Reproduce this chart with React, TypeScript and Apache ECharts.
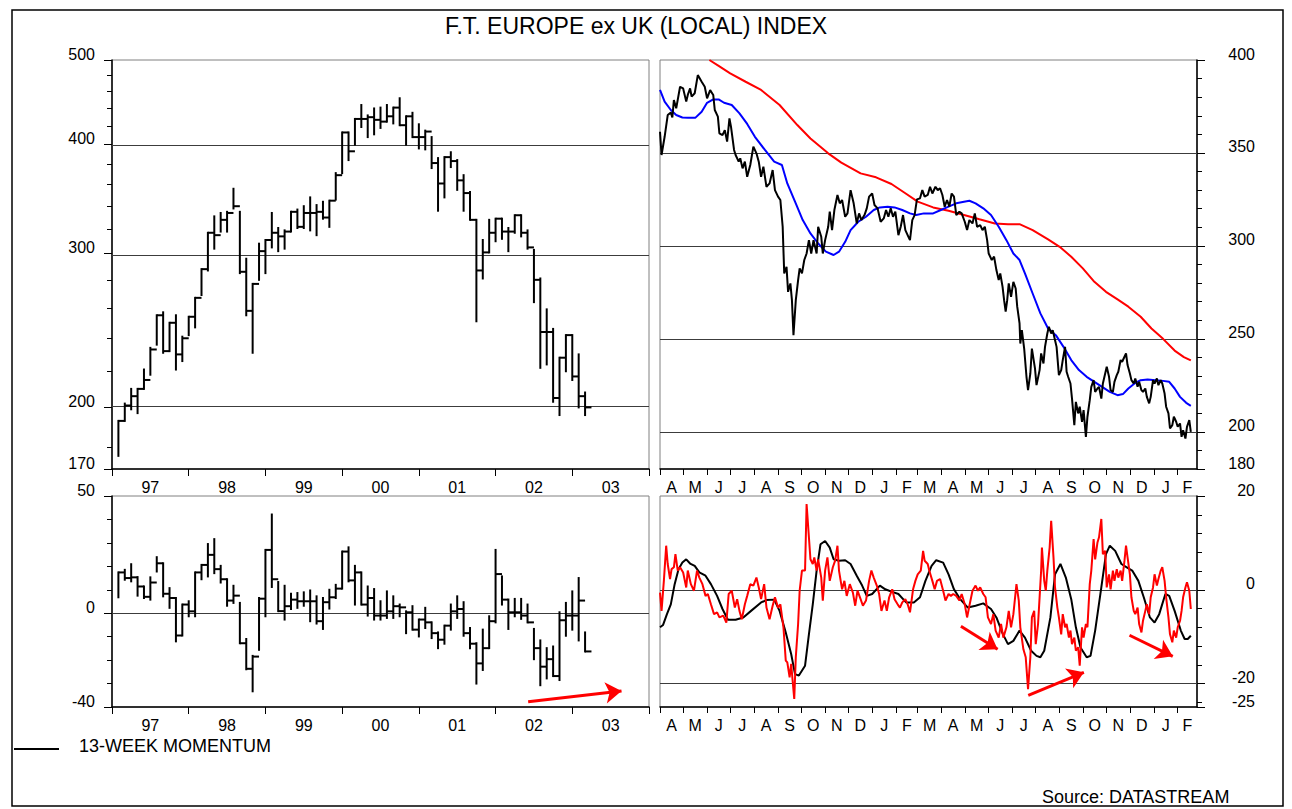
import React, { useEffect, useRef } from "react";
import * as echarts from "echarts";

const FONT = "'Liberation Sans', Arial, Helvetica, sans-serif";

// ---------- Left panels: monthly bars, Jan 1997 .. Feb 2003 (bar i sits at month-end i+1) ----------
const yearLabels = ["97", "98", "99", "00", "01", "02", "03"];
const monthlyHigh = [193,202,210,210,221,234,255,257,250,255,241,254,267,288,317,331,334,335,356,335,296,277,308,311,334,321,319,335,337,340,348,341,344,345,371,413,413,428,444,432,440,441,444,441,452,431,435,422,415,408,386,387,392,384,369,353,328,311,328,329,329,321,332,332,319,303,281,259,246,228,242,242,230,208];
const monthlyLow = [176,193,199,197,210,218,236,231,232,221,226,242,247,269,287,304,318,318,338,285,255,231,280,285,305,302,304,318,321,321,319,315,329,322,346,371,384,400,419,408,411,418,425,423,421,400,408,396,395,376,336,348,377,355,336,328,251,281,301,310,312,302,317,314,304,264,222,224,203,196,220,215,200,196];
const monthlyClose = [193,201,206,210,215,233,255,232,250,230,240,254,267,288,317,315,328,334,340,286,258,277,302,311,317,314,318,335,322,334,334,335,330,345,369,413,393,428,428,430,427,425,431,441,421,431,408,408,414,381,361,387,383,364,352,328,287,301,317,329,318,318,332,317,305,280,244,244,205,228,242,217,206,200];

const momHigh = [17.4,18.5,20.9,15.4,11.4,15.3,23.9,21.3,10.7,6.5,3.7,5.1,17.4,20.6,29.5,31.6,20.2,14.5,11.7,4.4,-11.0,-18.2,6.5,27,42.1,13.3,11.7,8.3,8.6,8.9,9.7,7.2,6.5,10,12.1,26.3,28.1,20.2,17.4,11.4,10.3,5.1,9.3,7.2,3.7,0.8,3,-2.7,2.3,-3.9,-8.2,-5.3,3.7,7.2,4.7,-6.3,-12.8,-7,-1.3,27,15.7,5.8,6.1,6.1,3.7,-6.7,-11.6,-14.9,-14.2,0.4,4.4,9.3,15,-8.2];
const momLow = [6.8,14.3,13.6,7.5,6.5,5.8,17.8,7.2,2.3,-12.0,-9.5,-1.3,-1.3,14.5,15.7,17.1,13.1,3.2,4.4,-12.8,-23.9,-33.3,-15.6,-1.3,11.2,0.9,-2.7,1.8,2.3,3.2,-3.4,-4.4,-6.7,2,6.5,10.5,13.6,3.7,3.7,-1,-2.7,-2.7,-2,-2,-1.3,-8.5,-7,-9.9,-6.3,-10.6,-14.9,-13,-7,-2,-9.6,-14.9,-30,-24.2,-14.9,-3.9,3.7,-6.7,-1.3,-2.4,-3.9,-19.6,-30.7,-27.8,-26.8,-28.5,-9.6,-7,-11.6,-16.3];
const momClose = [17.4,15.0,15.3,11.4,7.0,13.1,21.3,8.3,6.5,-9.5,3.7,0.8,17.4,20.6,24.9,18.8,14.5,5.4,7.5,-12.8,-23.7,-18.5,6.2,27,14.5,0.9,3,5.8,5.1,5.1,5.1,-3.4,4.7,6.8,10.5,26.3,14.0,17.4,3.7,6.5,-1,-1,0.8,3,2.5,0.4,-7,-2.7,-3.9,-8.5,-11.3,-5.3,0.8,1.8,-8.5,-13,-21.4,-14.9,-3.4,16.7,5.8,0.4,0.4,-1,-3.9,-14.9,-22.8,-19.6,-26.8,-3,-1,-1,5.4,-16.3];

const leftPriceTicks = [170, 200, 300, 400, 500];
const leftPriceMinor = [170,180,200,220,240,260,280,300,320,340,360,380,400,420,440,460,480,500];
const leftPriceGrid = [400, 300, 200];
const leftMomTicks = [-40, 0, 50];
const leftMomMinor = [-40,-30,-20,-10,0,10,20,30,40,50];
const leftMomGrid = [0];
// arrow: [monthStart, valueStart, monthEnd, valueEnd]
const leftMomArrows = [[65.1, -37.8, 79.7, -33.2]];

// ---------- Right panels: daily, day 0 = 1 Apr 2001 ----------
const monthLetters = ["A","M","J","J","A","S","O","N","D","J","F","M","A","M","J","J","A","S","O","N","D","J","F"];
const monthStartDays = [0,30,61,91,122,153,183,214,244,275,306,334,365,395,426,456,487,518,548,579,609,640,671];
const lastAxisDay = 696;

const indexDaily = [[0,361.4],[2,348.9],[6,358.7],[10,370.4],[14,371.7],[16,369.1],[18,378.5],[21,374.0],[26,385.6],[30,384.7],[34,377.6],[36,381.2],[39,384.7],[41,380.3],[45,382.1],[49,391.9],[54,388.3],[58,385.6],[61,379.4],[65,383.8],[69,381.2],[71,373.1],[75,369.5],[77,360.5],[81,359.6],[84,362.3],[87,356.1],[90,368.6],[92,364.1],[96,351.6],[98,348.9],[102,345.3],[104,347.1],[107,341.7],[110,345.3],[113,337.2],[117,343.5],[121,353.4],[125,349.8],[128,345.3],[131,337.2],[134,342.6],[138,331.8],[142,333.6],[146,340.8],[149,330.0],[153,326.5],[156,324.7],[159,310.3],[161,285.2],[164,288.8],[166,275.3],[169,279.8],[171,270.8],[173,252.0],[176,270.8],[179,281.6],[181,287.9],[184,285.2],[187,292.4],[190,295.9],[193,303.1],[196,295.9],[199,303.1],[203,295.9],[205,310.3],[209,304.9],[211,295.9],[214,303.1],[218,310.3],[220,318.4],[223,308.5],[226,319.3],[230,327.4],[233,322.9],[236,324.7],[240,315.7],[243,317.5],[245,323.8],[247,330.0],[251,322.9],[255,312.1],[258,317.5],[261,313.9],[265,316.6],[268,320.2],[271,326.5],[275,328.2],[278,322.0],[282,320.2],[286,313.0],[290,314.8],[293,319.3],[296,315.7],[299,320.2],[302,315.7],[305,318.4],[309,305.8],[312,310.3],[315,316.6],[318,308.5],[322,304.9],[324,303.1],[327,313.9],[330,316.6],[333,325.0],[337,325.6],[340,330.0],[343,326.5],[347,327.4],[350,331.8],[353,328.2],[357,331.8],[360,330.0],[363,331.0],[366,327.4],[369,321.1],[372,324.7],[375,321.1],[378,328.2],[381,326.5],[384,316.6],[388,318.4],[391,317.5],[395,313.0],[398,308.5],[401,313.9],[405,312.1],[408,317.5],[411,310.3],[415,311.2],[418,308.5],[421,310.3],[424,303.1],[426,295.9],[430,292.4],[433,294.2],[436,287.0],[439,281.6],[441,285.2],[444,278.0],[446,270.8],[448,264.6],[450,270.8],[452,279.8],[455,272.6],[458,280.7],[461,277.1],[463,267.3],[466,258.3],[467,247.5],[469,254.7],[472,244.8],[475,229.6],[477,222.4],[480,231.4],[482,244.8],[486,234.1],[488,225.1],[492,233.2],[494,242.2],[497,236.8],[499,245.7],[502,252.9],[504,256.5],[507,252.9],[509,254.7],[512,249.3],[514,245.7],[517,230.5],[520,233.2],[522,238.6],[525,245.7],[527,232.3],[529,229.6],[532,226.0],[534,217.9],[537,203.6],[539,216.1],[542,209.9],[544,213.5],[547,205.4],[549,211.7],[552,197.3],[554,208.1],[557,217.0],[559,224.2],[562,227.8],[564,221.5],[567,223.3],[569,224.2],[572,217.9],[574,226.0],[577,231.4],[579,235.0],[582,229.6],[584,222.4],[587,221.5],[589,226.9],[592,230.5],[594,232.3],[597,238.6],[599,237.7],[602,240.4],[604,242.2],[606,235.9],[609,231.4],[611,227.8],[614,226.0],[616,228.7],[619,224.2],[621,226.9],[624,222.4],[626,221.5],[629,223.3],[631,218.8],[634,215.3],[636,218.8],[639,227.8],[641,226.0],[644,228.7],[646,225.1],[649,227.8],[651,226.0],[654,220.6],[656,213.5],[659,209.9],[661,201.8],[664,203.6],[666,208.1],[669,205.4],[671,202.7],[674,204.5],[676,197.3],[678,200.9],[681,196.4],[683,202.7],[686,206.3],[688,200.0]];

const shortAverage = [[0,383.9],[6,377.6],[14,373.1],[21,370.4],[29,369.1],[36,369.0],[46,369.0],[54,372.2],[61,377.0],[69,378.8],[76,378.8],[83,377.0],[93,375.8],[103,371.3],[113,365.6],[123,358.7],[136,351.6],[148,345.3],[158,343.5],[165,333.6],[175,323.8],[185,313.9],[195,306.7],[205,301.3],[215,296.9],[225,295.1],[232,296.9],[240,302.2],[247,308.5],[257,313.0],[267,315.7],[277,319.3],[285,320.7],[295,321.1],[304,320.7],[314,319.3],[324,317.5],[332,316.6],[342,317.5],[354,317.5],[364,319.3],[374,321.1],[384,322.9],[394,323.8],[401,324.3],[409,322.9],[419,320.2],[429,316.6],[439,310.3],[449,303.1],[458,295.9],[466,292.4],[473,285.2],[483,274.4],[493,263.7],[503,255.6],[513,252.0],[523,245.7],[533,238.6],[543,233.2],[553,229.6],[563,226.9],[573,224.2],[583,221.5],[593,219.7],[600,220.3],[607,223.3],[615,226.0],[623,227.8],[632,228.2],[642,227.8],[652,227.4],[660,226.9],[667,223.3],[674,218.8],[682,215.6],[688,214.0]];

const longAverage = [[64,400.0],[76,396.8],[91,392.8],[111,388.3],[131,383.9],[155,375.8],[178,365.0],[195,357.8],[218,349.8],[235,344.8],[260,339.0],[280,336.9],[300,333.3],[317,328.6],[334,323.8],[354,320.7],[374,318.9],[394,316.6],[414,314.3],[434,312.1],[451,311.7],[466,311.7],[483,308.5],[503,303.5],[518,299.5],[533,294.2],[548,287.9],[563,280.7],[578,275.3],[593,271.2],[607,267.3],[623,261.9],[637,255.6],[652,250.0],[667,243.7],[679,240.2],[688,238.4]];

const momentum13 = [[0,-8.0],[4,-7.5],[9,-5.2],[14,-3.1],[19,1.2],[24,4.4],[29,5.8],[34,6.5],[39,5.6],[45,5.1],[51,3.7],[59,3.0],[66,1.2],[74,-1.3],[81,-4.1],[88,-6.4],[98,-6.4],[108,-5.9],[118,-4.5],[131,-2.7],[138,-2.2],[148,-2.1],[155,-4.5],[163,-9.1],[170,-13.7],[175,-18.0],[180,-18.3],[188,-16.2],[193,-9.5],[198,-3.1],[203,4.1],[208,9.7],[214,10.4],[220,9.0],[225,6.5],[232,6.2],[240,6.3],[247,5.5],[255,3.0],[262,0.9],[268,-1.3],[275,-0.9],[285,0.9],[292,0.1],[300,-0.4],[309,-0.9],[319,-2.7],[329,-2.7],[337,-1.6],[344,1.9],[352,5.1],[358,6.3],[367,5.8],[374,3.3],[381,0.1],[389,-2.0],[399,-3.8],[409,-3.4],[419,-2.9],[429,-4.1],[436,-5.9],[444,-9.3],[451,-11.6],[458,-10.9],[466,-8.7],[473,-10.2],[481,-13.0],[488,-14.1],[493,-14.4],[498,-13.0],[506,-5.9],[512,3.3],[519,5.5],[526,2.6],[533,-2.0],[539,-8.0],[545,-12.3],[553,-14.4],[558,-14.1],[564,-8.7],[572,0.5],[578,7.6],[583,9.4],[590,8.3],[598,5.5],[605,4.8],[612,4.1],[620,1.9],[627,-1.6],[635,-5.9],[641,-7.0],[647,-5.2],[655,-0.9],[660,-1.3],[667,-4.5],[675,-8.7],[680,-10.5],[684,-10.5],[688,-9.8]];

const momentumShort = [[0,-0.6],[2,-4.5],[5,1.9],[8,9.4],[10,5.5],[13,2.3],[15,4.4],[18,4.8],[20,7.6],[23,4.1],[26,4.8],[30,3.7],[34,0.5],[36,4.1],[40,1.2],[44,-0.2],[48,4.1],[51,2.6],[55,1.2],[59,-1.3],[62,-0.9],[66,-3.1],[70,-5.2],[74,-4.8],[77,-5.9],[82,-5.5],[86,-7.0],[89,-0.9],[93,-0.2],[97,-3.8],[100,-2.0],[103,-4.5],[106,-6.3],[110,-3.1],[113,-1.3],[117,1.2],[121,0.9],[125,2.6],[128,0.5],[131,-2.0],[135,1.2],[138,-3.8],[142,-6.3],[146,-3.4],[149,-1.6],[153,-3.8],[156,-3.1],[160,-8.0],[163,-15.1],[165,-15.5],[168,-18.7],[170,-15.8],[174,-23.3],[176,-14.4],[179,-7.3],[181,-0.2],[184,4.1],[188,4.1],[190,18.3],[193,11.2],[195,6.5],[198,5.5],[200,6.9],[203,4.1],[205,6.5],[209,2.6],[211,-2.3],[214,4.1],[217,6.9],[220,1.9],[224,4.8],[227,6.2],[230,9.4],[232,4.1],[236,0.1],[239,1.9],[242,-1.3],[246,1.2],[250,-0.6],[253,-3.4],[256,-0.2],[260,-2.0],[263,-3.4],[267,-2.3],[271,1.9],[274,4.1],[277,2.6],[281,0.9],[284,-0.9],[287,-4.5],[291,-2.3],[294,-4.5],[297,-1.6],[301,0.1],[304,-2.0],[308,-3.1],[311,-3.8],[314,-2.7],[318,-2.0],[321,-3.1],[324,-4.8],[328,0.1],[331,1.9],[334,3.3],[338,4.1],[341,8.3],[343,6.2],[347,5.5],[349,4.1],[353,1.9],[356,0.1],[359,1.9],[363,2.3],[367,-0.2],[370,-2.3],[374,-0.9],[377,-1.3],[380,-0.9],[384,-1.3],[388,-2.3],[391,-0.9],[395,-3.1],[398,-5.9],[401,-3.4],[405,-0.2],[409,0.9],[412,-0.2],[415,0.5],[419,-0.9],[422,-1.6],[425,-5.9],[429,-7.3],[432,-5.2],[435,-8.7],[439,-10.2],[442,-7.3],[445,-10.2],[449,-8.0],[452,-4.5],[455,-8.0],[458,-5.2],[462,1.2],[465,-2.3],[467,-8.0],[471,-12.7],[474,-14.4],[477,-21.2],[480,-14.4],[482,-5.9],[485,-4.5],[487,-11.6],[490,-7.3],[494,4.1],[495,9.0],[498,1.9],[500,-0.2],[502,4.1],[505,9.0],[507,14.7],[510,6.9],[512,0.5],[515,-3.8],[517,-5.9],[520,-9.5],[522,-5.2],[525,-8.0],[527,-7.3],[530,-10.2],[532,-8.7],[534,-11.6],[537,-10.2],[539,-13.0],[542,-12.3],[544,-16.2],[547,-8.0],[549,-10.2],[552,-7.3],[554,-8.0],[557,1.2],[559,4.1],[562,10.8],[564,6.5],[567,10.1],[569,11.2],[572,15.1],[574,7.6],[577,8.3],[579,0.5],[582,3.3],[584,0.1],[587,4.1],[589,1.9],[592,4.4],[594,2.6],[597,4.1],[599,1.9],[602,6.2],[604,9.4],[606,6.9],[609,3.3],[611,-1.6],[614,-4.5],[616,-5.2],[619,-3.8],[621,-7.3],[624,-9.1],[626,-6.6],[629,-4.5],[631,-3.1],[634,-5.2],[636,-1.6],[639,0.5],[641,3.3],[644,0.9],[646,2.3],[649,4.1],[651,4.8],[654,1.9],[656,-1.6],[659,-5.9],[661,-9.5],[664,-11.2],[666,-8.7],[669,-10.2],[671,-8.0],[674,-6.6],[676,-4.5],[678,-1.6],[681,0.5],[683,1.6],[686,-0.2],[688,-4.1]];

const rightPriceTicks = [180, 200, 250, 300, 350, 400];
const rightPriceMinor = [180,190,200,210,220,230,240,250,260,270,280,290,300,310,320,330,340,350,360,370,380,390,400];
const rightPriceGrid = [350, 300, 250, 200];
const rightMomTicks = [-25, -20, 0, 20];
const rightMomMinor = [-24,-20,-16,-12,-8,-4,0,4,8,12,16,20];
const rightMomGrid = [0, -20];
// arrows: [dayStart, valueStart, dayEnd, valueEnd]
const rightMomArrows = [[390, -7.8, 437.6, -12.7], [477.3, -22.5, 549.4, -17.6], [608.5, -9.7, 664.6, -14.2]];
const rightMomLongArrow = [[154.5, -26.3, 697.5, -24.9]];

const L = (v: number) => Math.log(v);

function hlcRender(params: any, api: any) {
  const x = api.value(0);
  const hi = api.coord([x, api.value(1)]);
  const lo = api.coord([x, api.value(2)]);
  const c0 = api.coord([x, api.value(3)]);
  const c1 = api.coord([x + 1, api.value(3)]);
  const style = { stroke: "#000", lineWidth: 2, fill: null };
  return {
    type: "group",
    children: [
      { type: "line", shape: { x1: hi[0], y1: hi[1] - 1, x2: lo[0], y2: lo[1] + 1 }, style },
      { type: "line", shape: { x1: c0[0], y1: c0[1], x2: c1[0], y2: c1[1] }, style },
    ],
  };
}

const tickLabelStyle = { color: "#000", fontSize: 16, fontFamily: FONT };

function yearAxis(gridIndex: number) {
  const ticks = [0, 12, 24, 36, 48, 60, 72, 84];
  const mids = yearLabels.map((_, i) => i * 12 + 6);
  return {
    type: "value", gridIndex, min: 0, max: 84,
    axisLine: { show: true, onZero: false, lineStyle: { color: "#000", width: 1.5 } },
    axisTick: { show: true, customValues: ticks, length: 7, lineStyle: { color: "#000", width: 1 } },
    axisLabel: { ...tickLabelStyle, customValues: mids, margin: 10, formatter: (v: number) => yearLabels[Math.round((v - 6) / 12)] },
    splitLine: { show: false },
  };
}

function dayAxis(gridIndex: number) {
  const mids = monthStartDays.map((d, i) => (d + (i + 1 < monthStartDays.length ? monthStartDays[i + 1] : lastAxisDay)) / 2);
  return {
    type: "value", gridIndex, min: 0, max: lastAxisDay,
    axisLine: { show: true, onZero: false, lineStyle: { color: "#000", width: 1.5 } },
    axisTick: { show: true, customValues: monthStartDays, length: 6, lineStyle: { color: "#000", width: 1 } },
    axisLabel: {
      ...tickLabelStyle, customValues: mids, margin: 10,
      formatter: (v: number) => {
        let idx = 0;
        mids.forEach((m, i) => { if (Math.abs(m - v) < Math.abs(mids[idx] - v)) idx = i; });
        return monthLetters[idx];
      },
    },
    splitLine: { show: false },
  };
}

function valueAxis(gridIndex: number, position: string, min: number, max: number, labels: number[], fmt: (v: number) => string) {
  const right = position === "right";
  return {
    type: "value", gridIndex, position, min, max,
    axisLine: { show: true, onZero: false, lineStyle: { color: "#000", width: 1.5 } },
    axisTick: { show: true, customValues: labels, length: 8, lineStyle: { color: "#000", width: 1 } },
    axisLabel: {
      ...tickLabelStyle, customValues: labels, formatter: fmt,
      margin: right ? 58 : 17, align: "right",
      verticalAlign: "bottom", lineHeight: 12,
    },
    splitLine: { show: false },
  };
}

function minorAxis(gridIndex: number, position: string, min: number, max: number, ticks: number[]) {
  return {
    type: "value", gridIndex, position, min, max,
    axisLine: { show: false, onZero: false },
    axisTick: { show: true, customValues: ticks, length: 5, lineStyle: { color: "#000", width: 1 } },
    axisLabel: { show: false },
    splitLine: { show: false },
  };
}

function gridMarks(vals: number[]) {
  return {
    silent: true, symbol: ["none", "none"], label: { show: false }, z: 1,
    lineStyle: { color: "#3c3c3c", width: 1, type: "solid" },
    emphasis: { disabled: true },
    data: vals.map((v) => ({ yAxis: v })),
  };
}

function arrowMarks(segs: number[][], width: number) {
  return {
    silent: true, symbol: ["none", "arrow"], symbolSize: 16, label: { show: false },
    lineStyle: { color: "#ff0000", width, type: "solid" },
    itemStyle: { color: "#ff0000" },
    emphasis: { disabled: true },
    data: segs.map((s) => [{ coord: [s[0], s[1]] }, { coord: [s[2], s[3]] }]),
  };
}

function buildOption() {
  const priceBars = monthlyHigh.map((h, i) => [i + 1, L(h), L(monthlyLow[i]), L(monthlyClose[i])]);
  const momBars = momHigh.map((h, i) => [i + 1, h, momLow[i], momClose[i]]);
  const gridBase = { show: true, borderColor: "#808080", borderWidth: 1, backgroundColor: "transparent", containLabel: false, outerBoundsMode: "none" };

  return {
    animation: false,
    backgroundColor: "#ffffff",
    textStyle: { fontFamily: FONT },
    grid: [
      { ...gridBase, left: 112, top: 60, width: 537, height: 409 },
      { ...gridBase, left: 660, top: 60, width: 537, height: 409 },
      { ...gridBase, left: 112, top: 496, width: 537, height: 211 },
      { ...gridBase, left: 660, top: 496, width: 537, height: 211 },
    ],
    xAxis: [yearAxis(0), dayAxis(1), yearAxis(2), dayAxis(3)],
    yAxis: [
      valueAxis(0, "left", L(170), L(500), leftPriceTicks.map(L), (v) => String(Math.round(Math.exp(v)))),
      minorAxis(0, "left", L(170), L(500), leftPriceMinor.map(L)),
      valueAxis(1, "right", 180, 400, rightPriceTicks, (v) => String(v)),
      minorAxis(1, "right", 180, 400, rightPriceMinor),
      valueAxis(2, "left", -40, 50, leftMomTicks, (v) => String(v)),
      minorAxis(2, "left", -40, 50, leftMomMinor),
      valueAxis(3, "right", -25, 20, rightMomTicks, (v) => String(v)),
      minorAxis(3, "right", -25, 20, rightMomMinor),
    ],
    series: [
      { type: "line", xAxisIndex: 0, yAxisIndex: 0, data: [], z: 1, markLine: gridMarks(leftPriceGrid.map(L)) },
      { type: "custom", name: "Monthly index", xAxisIndex: 0, yAxisIndex: 0, data: priceBars, renderItem: hlcRender, encode: { x: 0, y: [1, 2, 3] }, z: 3, silent: true },

      { type: "line", xAxisIndex: 1, yAxisIndex: 2, data: [], z: 1, markLine: gridMarks(rightPriceGrid) },
      { type: "line", name: "Long average", xAxisIndex: 1, yAxisIndex: 2, data: longAverage, showSymbol: false, symbol: "none", lineStyle: { color: "#ff0000", width: 2 }, z: 3 },
      { type: "line", name: "Short average", xAxisIndex: 1, yAxisIndex: 2, data: shortAverage, showSymbol: false, symbol: "none", lineStyle: { color: "#0000ff", width: 2 }, z: 4 },
      { type: "line", name: "Index", xAxisIndex: 1, yAxisIndex: 2, data: indexDaily, showSymbol: false, symbol: "none", lineStyle: { color: "#000000", width: 2 }, z: 5 },

      { type: "line", xAxisIndex: 2, yAxisIndex: 4, data: [], z: 1, markLine: gridMarks(leftMomGrid) },
      { type: "custom", name: "13-week momentum", xAxisIndex: 2, yAxisIndex: 4, data: momBars, renderItem: hlcRender, encode: { x: 0, y: [1, 2, 3] }, z: 3, silent: true },
      { type: "line", xAxisIndex: 2, yAxisIndex: 4, data: [], z: 6, markLine: arrowMarks(leftMomArrows, 3) },

      { type: "line", xAxisIndex: 3, yAxisIndex: 6, data: [], z: 1, markLine: gridMarks(rightMomGrid) },
      { type: "line", name: "13-week momentum daily", xAxisIndex: 3, yAxisIndex: 6, data: momentum13, showSymbol: false, symbol: "none", lineStyle: { color: "#000000", width: 2 }, z: 3 },
      { type: "line", name: "Short momentum", xAxisIndex: 3, yAxisIndex: 6, data: momentumShort, showSymbol: false, symbol: "none", lineStyle: { color: "#ff0000", width: 2 }, z: 4 },
      { type: "line", xAxisIndex: 3, yAxisIndex: 6, data: [], z: 6, markLine: arrowMarks(rightMomArrows, 3) },
      { type: "line", xAxisIndex: 3, yAxisIndex: 6, data: [], z: 6, markLine: arrowMarks(rightMomLongArrow, 3) },
    ],
    graphic: [
      { type: "rect", shape: { x: 12, y: 10, width: 1271, height: 796 }, style: { fill: "none", stroke: "#000", lineWidth: 1.5 }, silent: true, z: 0 },
      { type: "text", x: 636, y: 26, style: { text: "F.T. EUROPE ex UK (LOCAL) INDEX", fill: "#000", font: `23px ${FONT}`, textAlign: "center", textVerticalAlign: "middle" }, silent: true },
      { type: "line", shape: { x1: 14, y1: 749, x2: 59, y2: 749 }, style: { stroke: "#000", lineWidth: 2 }, silent: true },
      { type: "text", x: 79, y: 746, style: { text: "13-WEEK MOMENTUM", fill: "#000", font: `18px ${FONT}`, textAlign: "left", textVerticalAlign: "middle" }, silent: true },
      { type: "text", x: 1042, y: 797, style: { text: "Source: DATASTREAM", fill: "#000", font: `18px ${FONT}`, textAlign: "left", textVerticalAlign: "middle" }, silent: true },
    ],
  };
}

export default function App() {
  const ref = useRef<HTMLDivElement>(null);
  useEffect(() => {
    if (!ref.current) return;
    const chart = echarts.init(ref.current, null, { renderer: "svg" });
    chart.setOption(buildOption() as any);
    return () => chart.dispose();
  }, []);
  return <div ref={ref} style={{ position: "absolute", left: 0, top: 0, width: 1292, height: 809, background: "#fff" }} />;
}
